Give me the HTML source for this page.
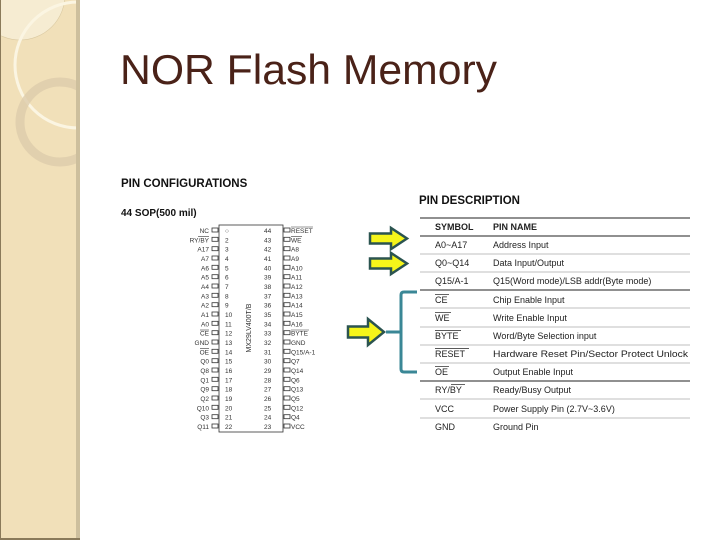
<!DOCTYPE html>
<html><head><meta charset="utf-8"><style>
html,body{margin:0;padding:0;background:#fff;}
svg{display:block;font-family:"Liberation Sans",Arial,sans-serif;}
</style></head><body>
<svg width="720" height="540" viewBox="0 0 720 540" xmlns="http://www.w3.org/2000/svg">
<defs><clipPath id="sb"><rect x="0" y="0" width="79" height="540"/></clipPath></defs>
<rect x="0" y="0" width="79" height="540" fill="#f1e0b9"/>
<g clip-path="url(#sb)">
<circle cx="20" cy="-5" r="45" fill="#f6ecd2" stroke="#d9c8a0" stroke-width="0.6"/>
<circle cx="78" cy="65" r="63" fill="none" stroke="#fbf5e2" stroke-width="3"/>
<circle cx="60" cy="122" r="40" fill="none" stroke="#ddccab" stroke-width="9" opacity="0.8"/>
</g>
<rect x="76" y="0" width="4" height="540" fill="#cdbf9d"/>
<rect x="0" y="0" width="1" height="540" fill="#8a7a5a"/>
<rect x="0" y="538" width="80" height="2" fill="#8a7a5a"/>
<text x="120" y="84" font-size="42" fill="#4a2218" textLength="377" lengthAdjust="spacingAndGlyphs">NOR Flash Memory</text>
<text x="121" y="187" font-size="11.5" font-weight="bold" fill="#111">PIN CONFIGURATIONS</text>
<text x="121" y="216" font-size="10" font-weight="bold" fill="#111">44 SOP(500 mil)</text>
<rect x="219" y="225" width="64" height="207" fill="#fff" stroke="#333" stroke-width="0.8"/>
<text transform="translate(251,328) rotate(-90)" font-size="7" fill="#333" text-anchor="middle">MX29LV400T/B</text>
<g font-size="6.5" fill="#333">
<g text-anchor="end">
<text x="209" y="233">NC</text><text x="209" y="242.3">RY/BY</text><text x="209" y="251.7">A17</text><text x="209" y="261">A7</text><text x="209" y="270.3">A6</text><text x="209" y="279.7">A5</text><text x="209" y="289">A4</text><text x="209" y="298.3">A3</text><text x="209" y="307.7">A2</text><text x="209" y="317">A1</text><text x="209" y="326.3">A0</text><text x="209" y="335.7">CE</text><text x="209" y="345">GND</text><text x="209" y="354.3">OE</text><text x="209" y="363.7">Q0</text><text x="209" y="373">Q8</text><text x="209" y="382.3">Q1</text><text x="209" y="391.7">Q9</text><text x="209" y="401">Q2</text><text x="209" y="410.3">Q10</text><text x="209" y="419.7">Q3</text><text x="209" y="429">Q11</text>
</g>
<g>
<text x="225" y="233">○</text><text x="225" y="242.3">2</text><text x="225" y="251.7">3</text><text x="225" y="261">4</text><text x="225" y="270.3">5</text><text x="225" y="279.7">6</text><text x="225" y="289">7</text><text x="225" y="298.3">8</text><text x="225" y="307.7">9</text><text x="225" y="317">10</text><text x="225" y="326.3">11</text><text x="225" y="335.7">12</text><text x="225" y="345">13</text><text x="225" y="354.3">14</text><text x="225" y="363.7">15</text><text x="225" y="373">16</text><text x="225" y="382.3">17</text><text x="225" y="391.7">18</text><text x="225" y="401">19</text><text x="225" y="410.3">20</text><text x="225" y="419.7">21</text><text x="225" y="429">22</text>
</g>
<g>
<text x="264" y="233">44</text><text x="264" y="242.3">43</text><text x="264" y="251.7">42</text><text x="264" y="261">41</text><text x="264" y="270.3">40</text><text x="264" y="279.7">39</text><text x="264" y="289">38</text><text x="264" y="298.3">37</text><text x="264" y="307.7">36</text><text x="264" y="317">35</text><text x="264" y="326.3">34</text><text x="264" y="335.7">33</text><text x="264" y="345">32</text><text x="264" y="354.3">31</text><text x="264" y="363.7">30</text><text x="264" y="373">29</text><text x="264" y="382.3">28</text><text x="264" y="391.7">27</text><text x="264" y="401">26</text><text x="264" y="410.3">25</text><text x="264" y="419.7">24</text><text x="264" y="429">23</text>
</g>
<g>
<text x="291" y="233">RESET</text><text x="291" y="242.3">WE</text><text x="291" y="251.7">A8</text><text x="291" y="261">A9</text><text x="291" y="270.3">A10</text><text x="291" y="279.7">A11</text><text x="291" y="289">A12</text><text x="291" y="298.3">A13</text><text x="291" y="307.7">A14</text><text x="291" y="317">A15</text><text x="291" y="326.3">A16</text><text x="291" y="335.7">BYTE</text><text x="291" y="345">GND</text><text x="291" y="354.3">Q15/A-1</text><text x="291" y="363.7">Q7</text><text x="291" y="373">Q14</text><text x="291" y="382.3">Q6</text><text x="291" y="391.7">Q13</text><text x="291" y="401">Q5</text><text x="291" y="410.3">Q12</text><text x="291" y="419.7">Q4</text><text x="291" y="429">VCC</text>
</g>
</g>
<g stroke="#333" stroke-width="0.6">
<line x1="291" y1="227" x2="313" y2="227"/><line x1="291" y1="236.3" x2="302" y2="236.3"/><line x1="291" y1="330" x2="309" y2="330"/>
<line x1="198" y1="236.3" x2="209" y2="236.3"/><line x1="200" y1="330" x2="209" y2="330"/><line x1="200" y1="348.6" x2="209" y2="348.6"/>
</g>
<g fill="#fff" stroke="#333" stroke-width="0.8">
<rect x="212" y="228" width="6" height="4"/><rect x="212" y="237.3" width="6" height="4"/><rect x="212" y="246.7" width="6" height="4"/><rect x="212" y="256" width="6" height="4"/><rect x="212" y="265.3" width="6" height="4"/><rect x="212" y="274.7" width="6" height="4"/><rect x="212" y="284" width="6" height="4"/><rect x="212" y="293.3" width="6" height="4"/><rect x="212" y="302.7" width="6" height="4"/><rect x="212" y="312" width="6" height="4"/><rect x="212" y="321.3" width="6" height="4"/><rect x="212" y="330.7" width="6" height="4"/><rect x="212" y="340" width="6" height="4"/><rect x="212" y="349.3" width="6" height="4"/><rect x="212" y="358.7" width="6" height="4"/><rect x="212" y="368" width="6" height="4"/><rect x="212" y="377.3" width="6" height="4"/><rect x="212" y="386.7" width="6" height="4"/><rect x="212" y="396" width="6" height="4"/><rect x="212" y="405.3" width="6" height="4"/><rect x="212" y="414.7" width="6" height="4"/><rect x="212" y="424" width="6" height="4"/>
<rect x="284" y="228" width="6" height="4"/><rect x="284" y="237.3" width="6" height="4"/><rect x="284" y="246.7" width="6" height="4"/><rect x="284" y="256" width="6" height="4"/><rect x="284" y="265.3" width="6" height="4"/><rect x="284" y="274.7" width="6" height="4"/><rect x="284" y="284" width="6" height="4"/><rect x="284" y="293.3" width="6" height="4"/><rect x="284" y="302.7" width="6" height="4"/><rect x="284" y="312" width="6" height="4"/><rect x="284" y="321.3" width="6" height="4"/><rect x="284" y="330.7" width="6" height="4"/><rect x="284" y="340" width="6" height="4"/><rect x="284" y="349.3" width="6" height="4"/><rect x="284" y="358.7" width="6" height="4"/><rect x="284" y="368" width="6" height="4"/><rect x="284" y="377.3" width="6" height="4"/><rect x="284" y="386.7" width="6" height="4"/><rect x="284" y="396" width="6" height="4"/><rect x="284" y="405.3" width="6" height="4"/><rect x="284" y="414.7" width="6" height="4"/><rect x="284" y="424" width="6" height="4"/>
</g>
<text x="419" y="204" font-size="11.5" font-weight="bold" fill="#111">PIN DESCRIPTION</text>
<g stroke="#222" stroke-width="0.9">
<line x1="420" y1="218" x2="690" y2="218"/><line x1="420" y1="236" x2="690" y2="236"/><line x1="420" y1="290" x2="690" y2="290"/><line x1="420" y1="381" x2="690" y2="381"/>
</g>
<g stroke="#aaa" stroke-width="0.7">
<line x1="420" y1="254" x2="690" y2="254"/><line x1="420" y1="272" x2="690" y2="272"/><line x1="420" y1="308" x2="690" y2="308"/><line x1="420" y1="327" x2="690" y2="327"/><line x1="420" y1="345" x2="690" y2="345"/><line x1="420" y1="363" x2="690" y2="363"/><line x1="420" y1="399" x2="690" y2="399"/><line x1="420" y1="418" x2="690" y2="418"/>
</g>
<g font-size="9" fill="#222">
<text x="435" y="230" font-weight="bold">SYMBOL</text><text x="493" y="230" font-weight="bold">PIN NAME</text>
<text x="435" y="248">A0~A17</text><text x="493" y="248">Address Input</text>
<text x="435" y="266">Q0~Q14</text><text x="493" y="266">Data Input/Output</text>
<text x="435" y="284">Q15/A-1</text><text x="493" y="284">Q15(Word mode)/LSB addr(Byte mode)</text>
<text x="435" y="303">CE</text><text x="493" y="303">Chip Enable Input</text>
<text x="435" y="321">WE</text><text x="493" y="321">Write Enable Input</text>
<text x="435" y="339">BYTE</text><text x="493" y="339">Word/Byte Selection input</text>
<text x="435" y="357">RESET</text><text x="493" y="357" textLength="195" lengthAdjust="spacingAndGlyphs">Hardware Reset Pin/Sector Protect Unlock</text>
<text x="435" y="375">OE</text><text x="493" y="375">Output Enable Input</text>
<text x="435" y="393">RY/BY</text><text x="493" y="393">Ready/Busy Output</text>
<text x="435" y="412">VCC</text><text x="493" y="412">Power Supply Pin (2.7V~3.6V)</text>
<text x="435" y="430">GND</text><text x="493" y="430">Ground Pin</text>
</g>
<g stroke="#222" stroke-width="0.7">
<line x1="435" y1="294.5" x2="449" y2="294.5"/><line x1="435" y1="312.5" x2="451" y2="312.5"/><line x1="435" y1="330.5" x2="461" y2="330.5"/><line x1="435" y1="348.5" x2="469" y2="348.5"/><line x1="435" y1="366.5" x2="449" y2="366.5"/><line x1="451" y1="384.5" x2="465" y2="384.5"/>
</g>
<g fill="#f5f51a" stroke="#2b5450" stroke-width="2.5" stroke-linejoin="miter">
<polygon points="370,233.5 391,233.5 391,228 407,238.5 391,249 391,243.5 370,243.5"/>
<polygon points="370,258.5 391,258.5 391,253 407,263.5 391,274 391,268.5 370,268.5"/>
<polygon points="348,326.5 368,326.5 368,319 384,332 368,345 368,337.5 348,337.5"/>
</g>
<g fill="none" stroke="#3a8796" stroke-width="3">
<path d="M417,292 L404,292 Q401,292 401,295 L401,369 Q401,372 404,372 L417,372"/>
<line x1="386" y1="332" x2="401" y2="332"/>
</g>
</svg>
</body></html>
